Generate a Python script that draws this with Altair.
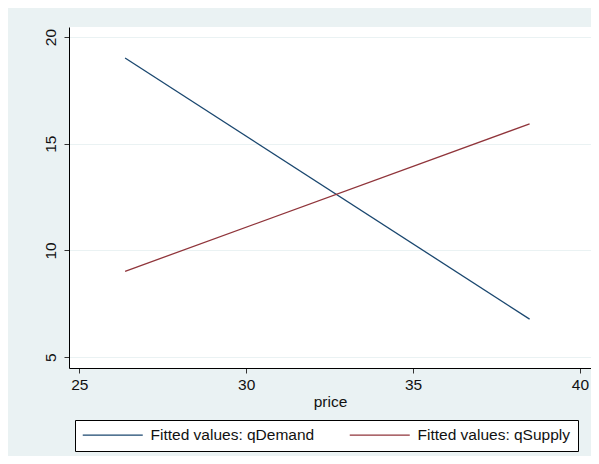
import altair as alt
import pandas as pd

price = [26.37, 38.49]
q_demand = [19.02, 6.78]
q_supply = [9.02, 15.93]
series = ["Fitted values: qDemand", "Fitted values: qSupply"]
x_ticks = [25, 30, 35, 40]
y_ticks = [5, 10, 15, 20]

rows = []
for p, d in zip(price, q_demand):
    rows.append({"price": p, "q": d, "series": series[0]})
for p, s in zip(price, q_supply):
    rows.append({"price": p, "q": s, "series": series[1]})
df = pd.DataFrame(rows)

chart = alt.Chart(df).mark_line(strokeWidth=1.3).encode(
    x=alt.X("price:Q", scale=alt.Scale(domain=[24.69, 40.33], nice=False, zero=False),
            axis=alt.Axis(values=x_ticks, title="price", grid=False, labelPadding=4,
                          titlePadding=2)),
    y=alt.Y("q:Q", scale=alt.Scale(domain=[4.49, 20.47], nice=False, zero=False),
            axis=alt.Axis(values=y_ticks, title=None, grid=True, labelAngle=270,
                          labelAlign="center", labelBaseline="bottom", labelPadding=6)),
    color=alt.Color("series:N", scale=alt.Scale(domain=series, range=["#1a476f", "#90353b"]),
                    legend=alt.Legend(title=None, orient="none", legendX=6, legendY=393,
                                      direction="horizontal", symbolType="M-1.4,0H10.6",
                                      symbolSize=100, symbolStrokeWidth=1.3,
                                      labelFontSize=15.5, labelFont="Liberation Sans",
                                      labelColor="#111111", labelOffset=53,
                                      columnPadding=32, padding=7, gridAlign="all",
                                      strokeColor="black", fillColor="white",
                                      labelLimit=300)),
    detail="series:N",
).properties(
    width=522, height=341,
    background="#eaf2f3",
    padding={"left": 61, "top": 19, "right": 0, "bottom": 88},
    autosize=alt.AutoSizeParams(type="none"),
).configure_view(
    fill="white", stroke=None
).configure_axis(
    domainColor="black", domainWidth=1, tickColor="#333333", tickSize=5,
    labelFont="Liberation Sans", labelFontSize=15.5, labelColor="#111111",
    titleFont="Liberation Sans", titleFontSize=15.5, titleFontWeight="normal",
    titleColor="#111111", gridColor="#eaf2f3", gridWidth=1
)

chart.save("out.html", embed_options={"renderer": "svg", "actions": False})
